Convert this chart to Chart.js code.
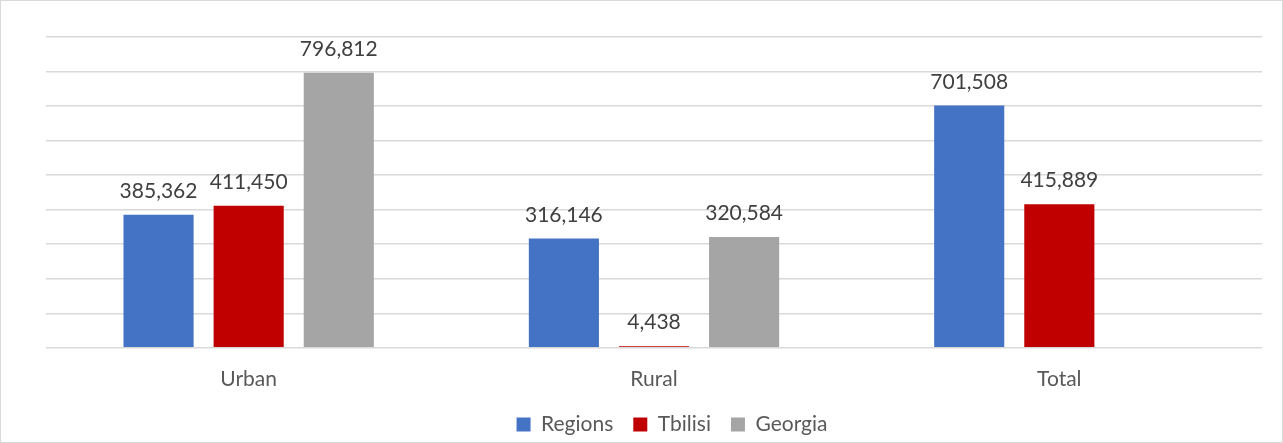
<!DOCTYPE html>
<html lang="en">
<head>
  <meta charset="UTF-8">
  <title>Households by settlement type</title>
  <style>
    body {
      margin: 0;
      background: #fff;
    }

    .chart-box {
      width: 1283px;
      height: 443px;
      box-sizing: border-box;
      border: 1px solid #d9d9d9;
      background: #fff;
    }

    canvas {
      display: block;
    }
  </style>
  <script src="https://cdn.jsdelivr.net/npm/chart.js"></script>
</head>
<body>
  <div class="chart-box">
    <canvas id="chart" width="1281" height="441"></canvas>
  </div>

  <script>
    const categories = ['Urban', 'Rural', 'Total'];
    const regions = [385362, 316146, 701508];
    const tbilisi = [411450, 4438, 415889];
    const georgia = [796812, 320584, null];

    const FONT = 'Lato, "Open Sans", sans-serif';

    // values written above each bar
    const barValues = {
      id: 'barValues',
      afterDatasetsDraw(chart) {
        const ctx = chart.ctx;
        ctx.save();
        ctx.font = '21px ' + FONT;
        ctx.fillStyle = '#404040';
        ctx.textAlign = 'center';
        ctx.textBaseline = 'alphabetic';
        chart.data.datasets.forEach((ds, i) => {
          const meta = chart.getDatasetMeta(i);
          meta.data.forEach((bar, j) => {
            const v = ds.data[j];
            if (v == null) return;
            ctx.fillText(v.toLocaleString('en-US'), bar.x, bar.y - 17);
          });
        });
        ctx.restore();
      }
    };

    // nudge the legend a little to the right
    const legendShift = {
      id: 'legendShift',
      afterLayout(chart) {
        chart.legend.left += 18;
        chart.legend.right += 18;
      }
    };

    const ctx = document.getElementById('chart').getContext('2d');
    new Chart(ctx, {
      type: 'bar',
      data: {
        labels: categories,
        datasets: [
          { label: 'Regions', data: regions, backgroundColor: '#4472c4' },
          { label: 'Tbilisi', data: tbilisi, backgroundColor: '#c00000' },
          { label: 'Georgia', data: georgia, backgroundColor: '#a5a5a5' }
        ]
      },
      options: {
        responsive: false,
        animation: false,
        categoryPercentage: 0.667,
        barPercentage: 0.778,
        layout: {
          padding: { left: 45, right: 20, top: 36, bottom: -3 }
        },
        plugins: {
          legend: {
            position: 'bottom',
            labels: {
              boxWidth: 14,
              boxHeight: 14,
              padding: 20,
              color: '#595959',
              font: { family: FONT, size: 21 }
            }
          },
          tooltip: { enabled: false }
        },
        scales: {
          x: {
            grid: { display: false, drawTicks: false },
            border: { display: false },
            ticks: {
              padding: 19,
              color: '#595959',
              font: { family: FONT, size: 21 }
            },
            // pull the legend up closer to the category labels
            afterFit(scale) {
              scale.height -= 17;
            }
          },
          y: {
            min: 0,
            max: 900000,
            border: { display: false },
            grid: { color: '#d9d9d9', lineWidth: 1.5, drawTicks: false },
            ticks: { display: false, stepSize: 100000 }
          }
        }
      },
      plugins: [barValues, legendShift]
    });
  </script>
</body>
</html>
